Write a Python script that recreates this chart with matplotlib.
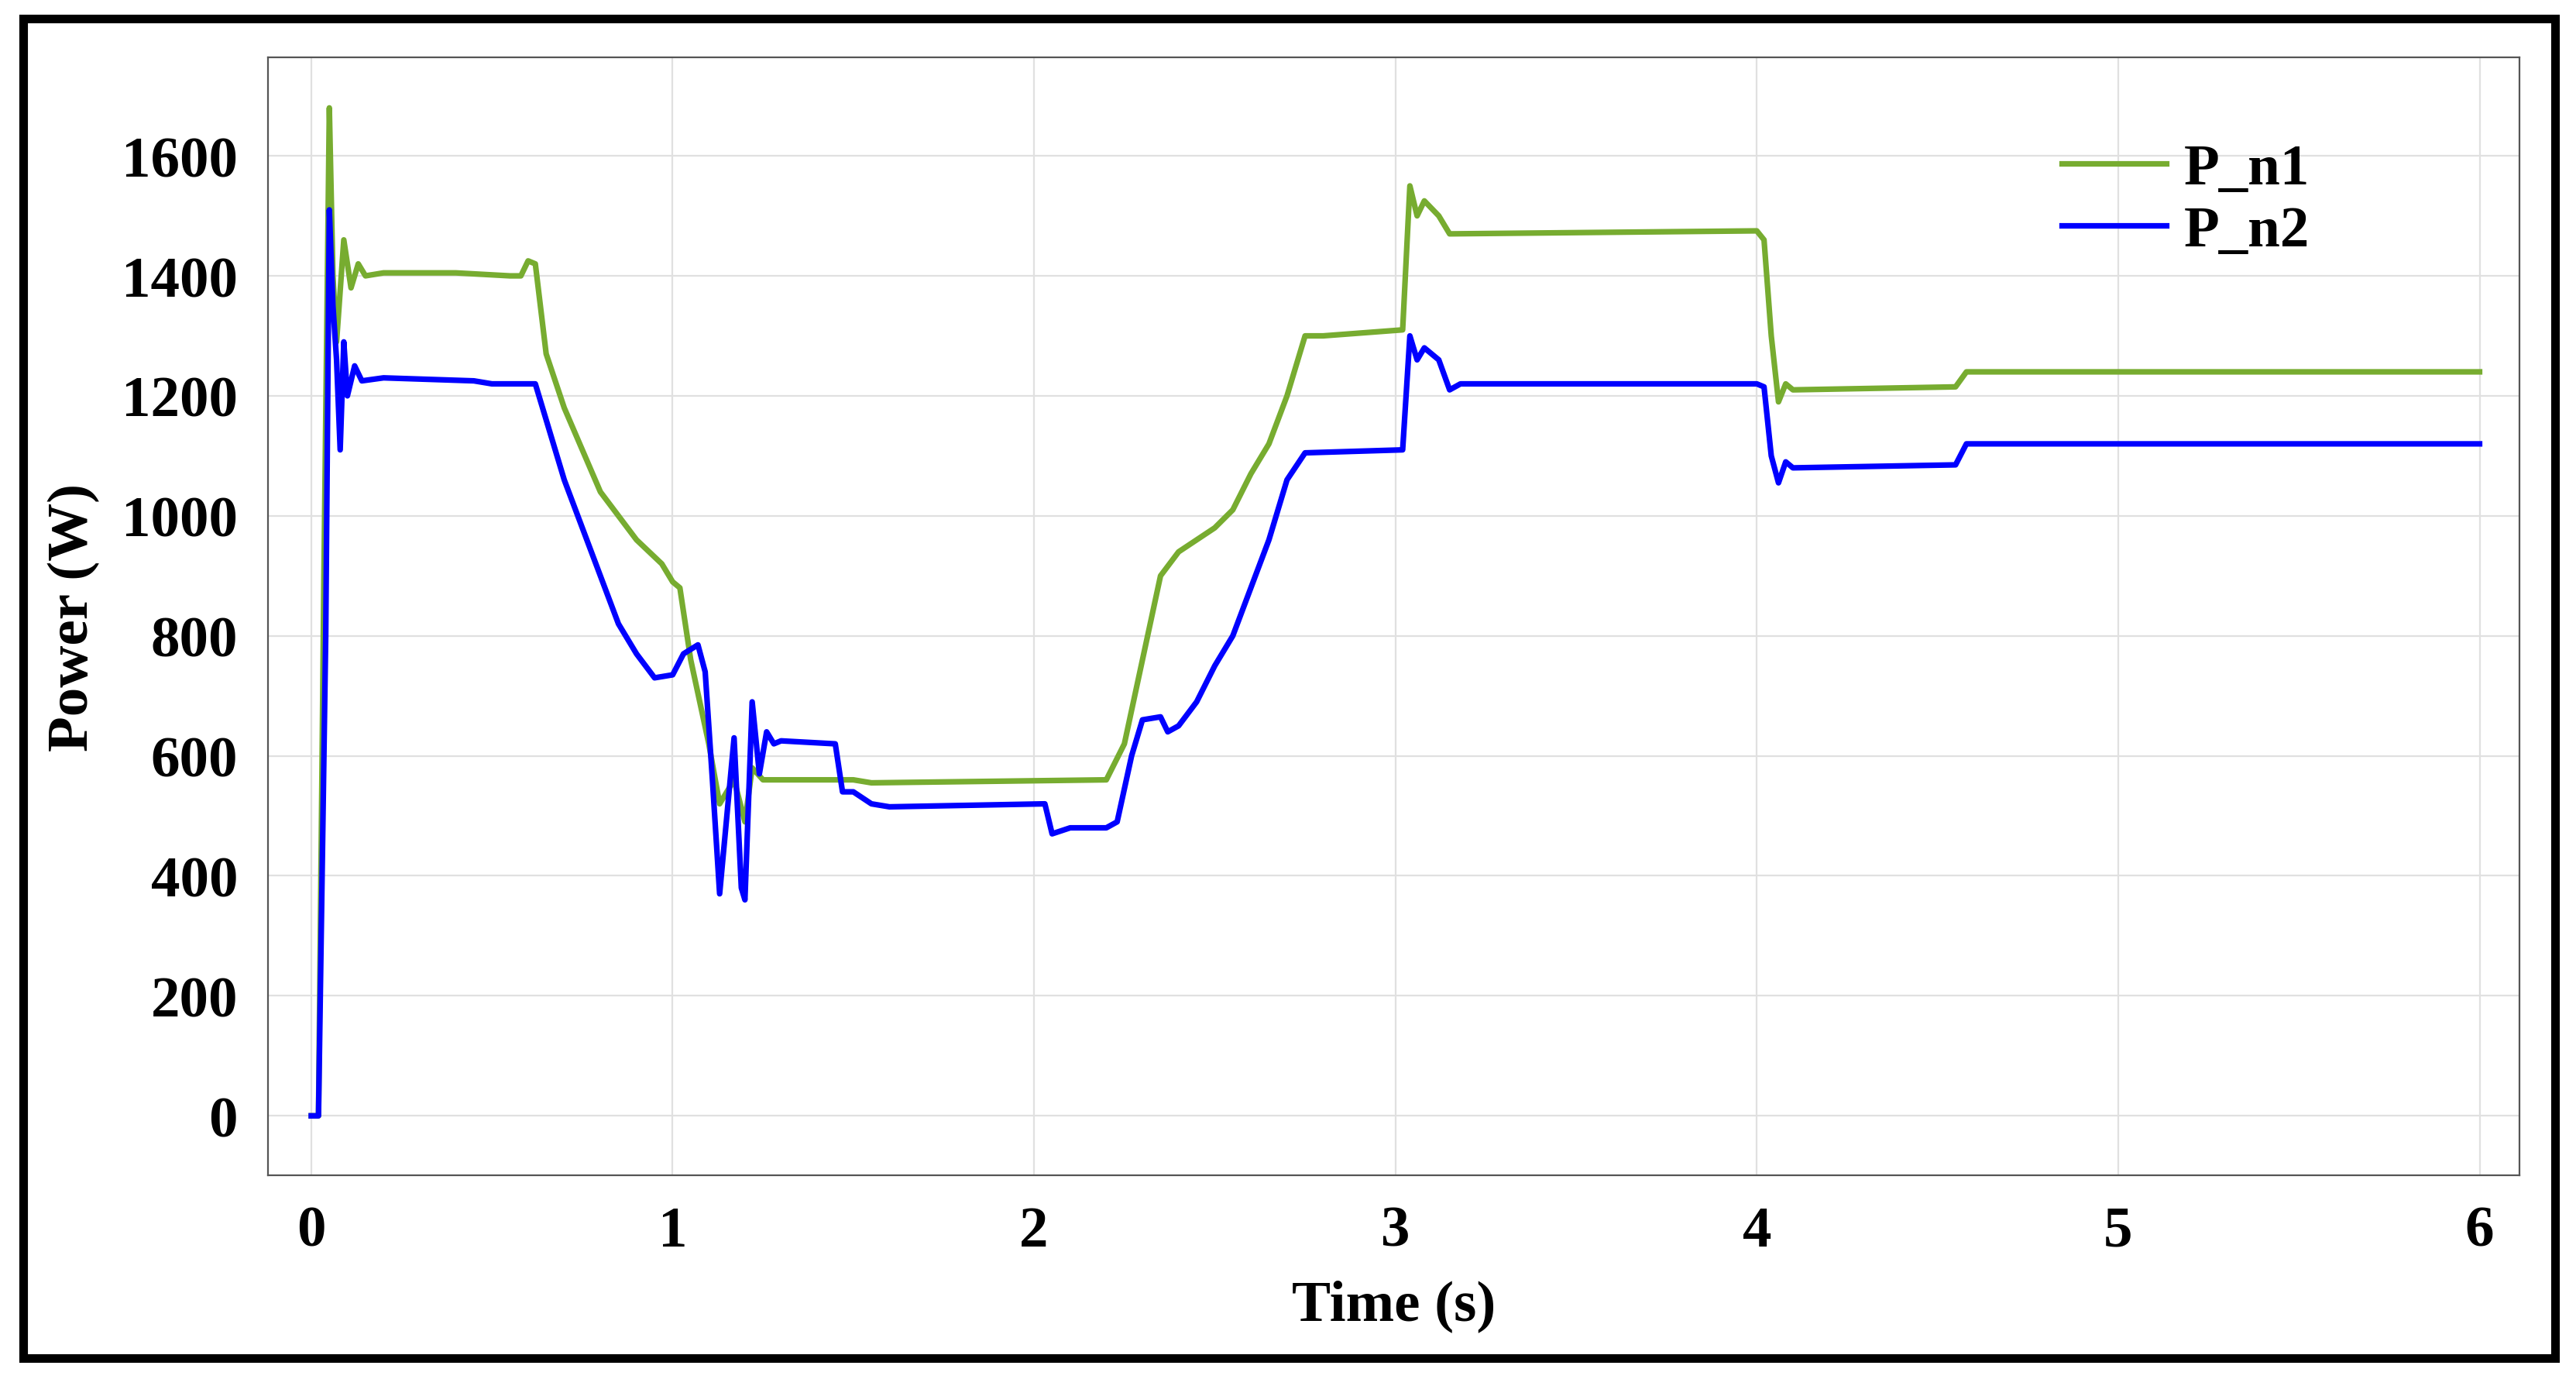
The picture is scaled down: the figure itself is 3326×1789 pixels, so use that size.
import matplotlib.pyplot as plt
from matplotlib.patches import Rectangle

t1 = [0, 0.02, 0.035, 0.05, 0.06, 0.07, 0.09, 0.11, 0.13, 0.15, 0.2, 0.4, 0.55, 0.58, 0.6, 0.62, 0.65,
      0.7, 0.8, 0.9, 0.97, 1.0, 1.02, 1.05, 1.1, 1.13, 1.17, 1.2, 1.22, 1.25, 1.5, 1.55, 2.2, 2.25,
      2.3, 2.35, 2.4, 2.5, 2.55, 2.6, 2.65, 2.7, 2.75, 2.8, 3.02, 3.04, 3.06, 3.08, 3.12, 3.15,
      4.0, 4.02, 4.04, 4.06, 4.08, 4.1, 4.55, 4.58, 6.0]
p_n1 = [0, 0, 900, 1680, 1400, 1290, 1460, 1380, 1420, 1400, 1405, 1405, 1400, 1400, 1425, 1420, 1270,
        1180, 1040, 960, 920, 890, 880, 760, 620, 520, 560, 490, 580, 560, 560, 555, 560, 620,
        760, 900, 940, 980, 1010, 1070, 1120, 1200, 1300, 1300, 1310, 1550, 1500, 1525, 1500, 1470,
        1475, 1460, 1300, 1190, 1220, 1210, 1215, 1240, 1240]

t2 = [0, 0.02, 0.04, 0.05, 0.06, 0.07, 0.08, 0.09, 0.1, 0.12, 0.14, 0.2, 0.45, 0.5, 0.62, 0.65, 0.7,
      0.8, 0.85, 0.9, 0.95, 1.0, 1.03, 1.07, 1.09, 1.11, 1.13, 1.15, 1.17, 1.19, 1.2, 1.22, 1.24,
      1.26, 1.28, 1.3, 1.45, 1.47, 1.5, 1.55, 1.6, 2.03, 2.05, 2.1, 2.2, 2.23, 2.27, 2.3, 2.35,
      2.37, 2.4, 2.45, 2.5, 2.55, 2.6, 2.65, 2.7, 2.75, 3.02, 3.04, 3.06, 3.08, 3.12, 3.15, 3.18,
      4.0, 4.02, 4.04, 4.06, 4.08, 4.1, 4.55, 4.58, 6.0]
p_n2 = [0, 0, 800, 1510, 1350, 1260, 1110, 1290, 1200, 1250, 1225, 1230, 1225, 1220, 1220, 1160, 1060,
        900, 820, 770, 730, 735, 770, 785, 740, 560, 370, 500, 630, 380, 360, 690, 570,
        640, 620, 625, 620, 540, 540, 520, 515, 520, 470, 480, 480, 490, 600, 660, 665,
        640, 650, 690, 750, 800, 880, 960, 1060, 1105, 1110, 1300, 1260, 1280, 1260, 1210, 1220,
        1220, 1215, 1100, 1055, 1090, 1080, 1085, 1120, 1120]

plt.rcParams['font.family'] = 'Liberation Serif'
plt.rcParams['font.weight'] = 'bold'

fig = plt.figure(figsize=(16.63, 8.95), dpi=200)
ax = fig.add_axes([0.104, 0.152, 0.874, 0.806])
ax.plot(t1, p_n1, color='#77ac30', lw=2.6, label='P_n1')
ax.plot(t2, p_n2, color='#0000ff', lw=2.6, label='P_n2')
ax.set_xlim(-0.12, 6.11)
ax.set_ylim(-99, 1764)
ax.set_xticks(range(7))
ax.set_yticks(range(0, 1601, 200))
ax.grid(color='#e0e0e0', lw=0.8)
for s in ax.spines.values():
    s.set_color('#555555')
ax.tick_params(labelsize=27, length=0, pad=14)
ax.set_xlabel('Time (s)', fontsize=27, fontweight='bold', labelpad=10)
ax.set_ylabel('Power (W)', fontsize=27, fontweight='bold', labelpad=10)
ax.legend(loc='upper right', frameon=False, fontsize=27, bbox_to_anchor=(0.93, 0.97),
          handlelength=1.8, labelspacing=0.15, handletextpad=0.3)
fig.patches.append(Rectangle((0.009, 0.02), 0.983, 0.966, transform=fig.transFigure,
                             fill=False, edgecolor='black', lw=4))
fig.savefig('out.png', facecolor='white')
